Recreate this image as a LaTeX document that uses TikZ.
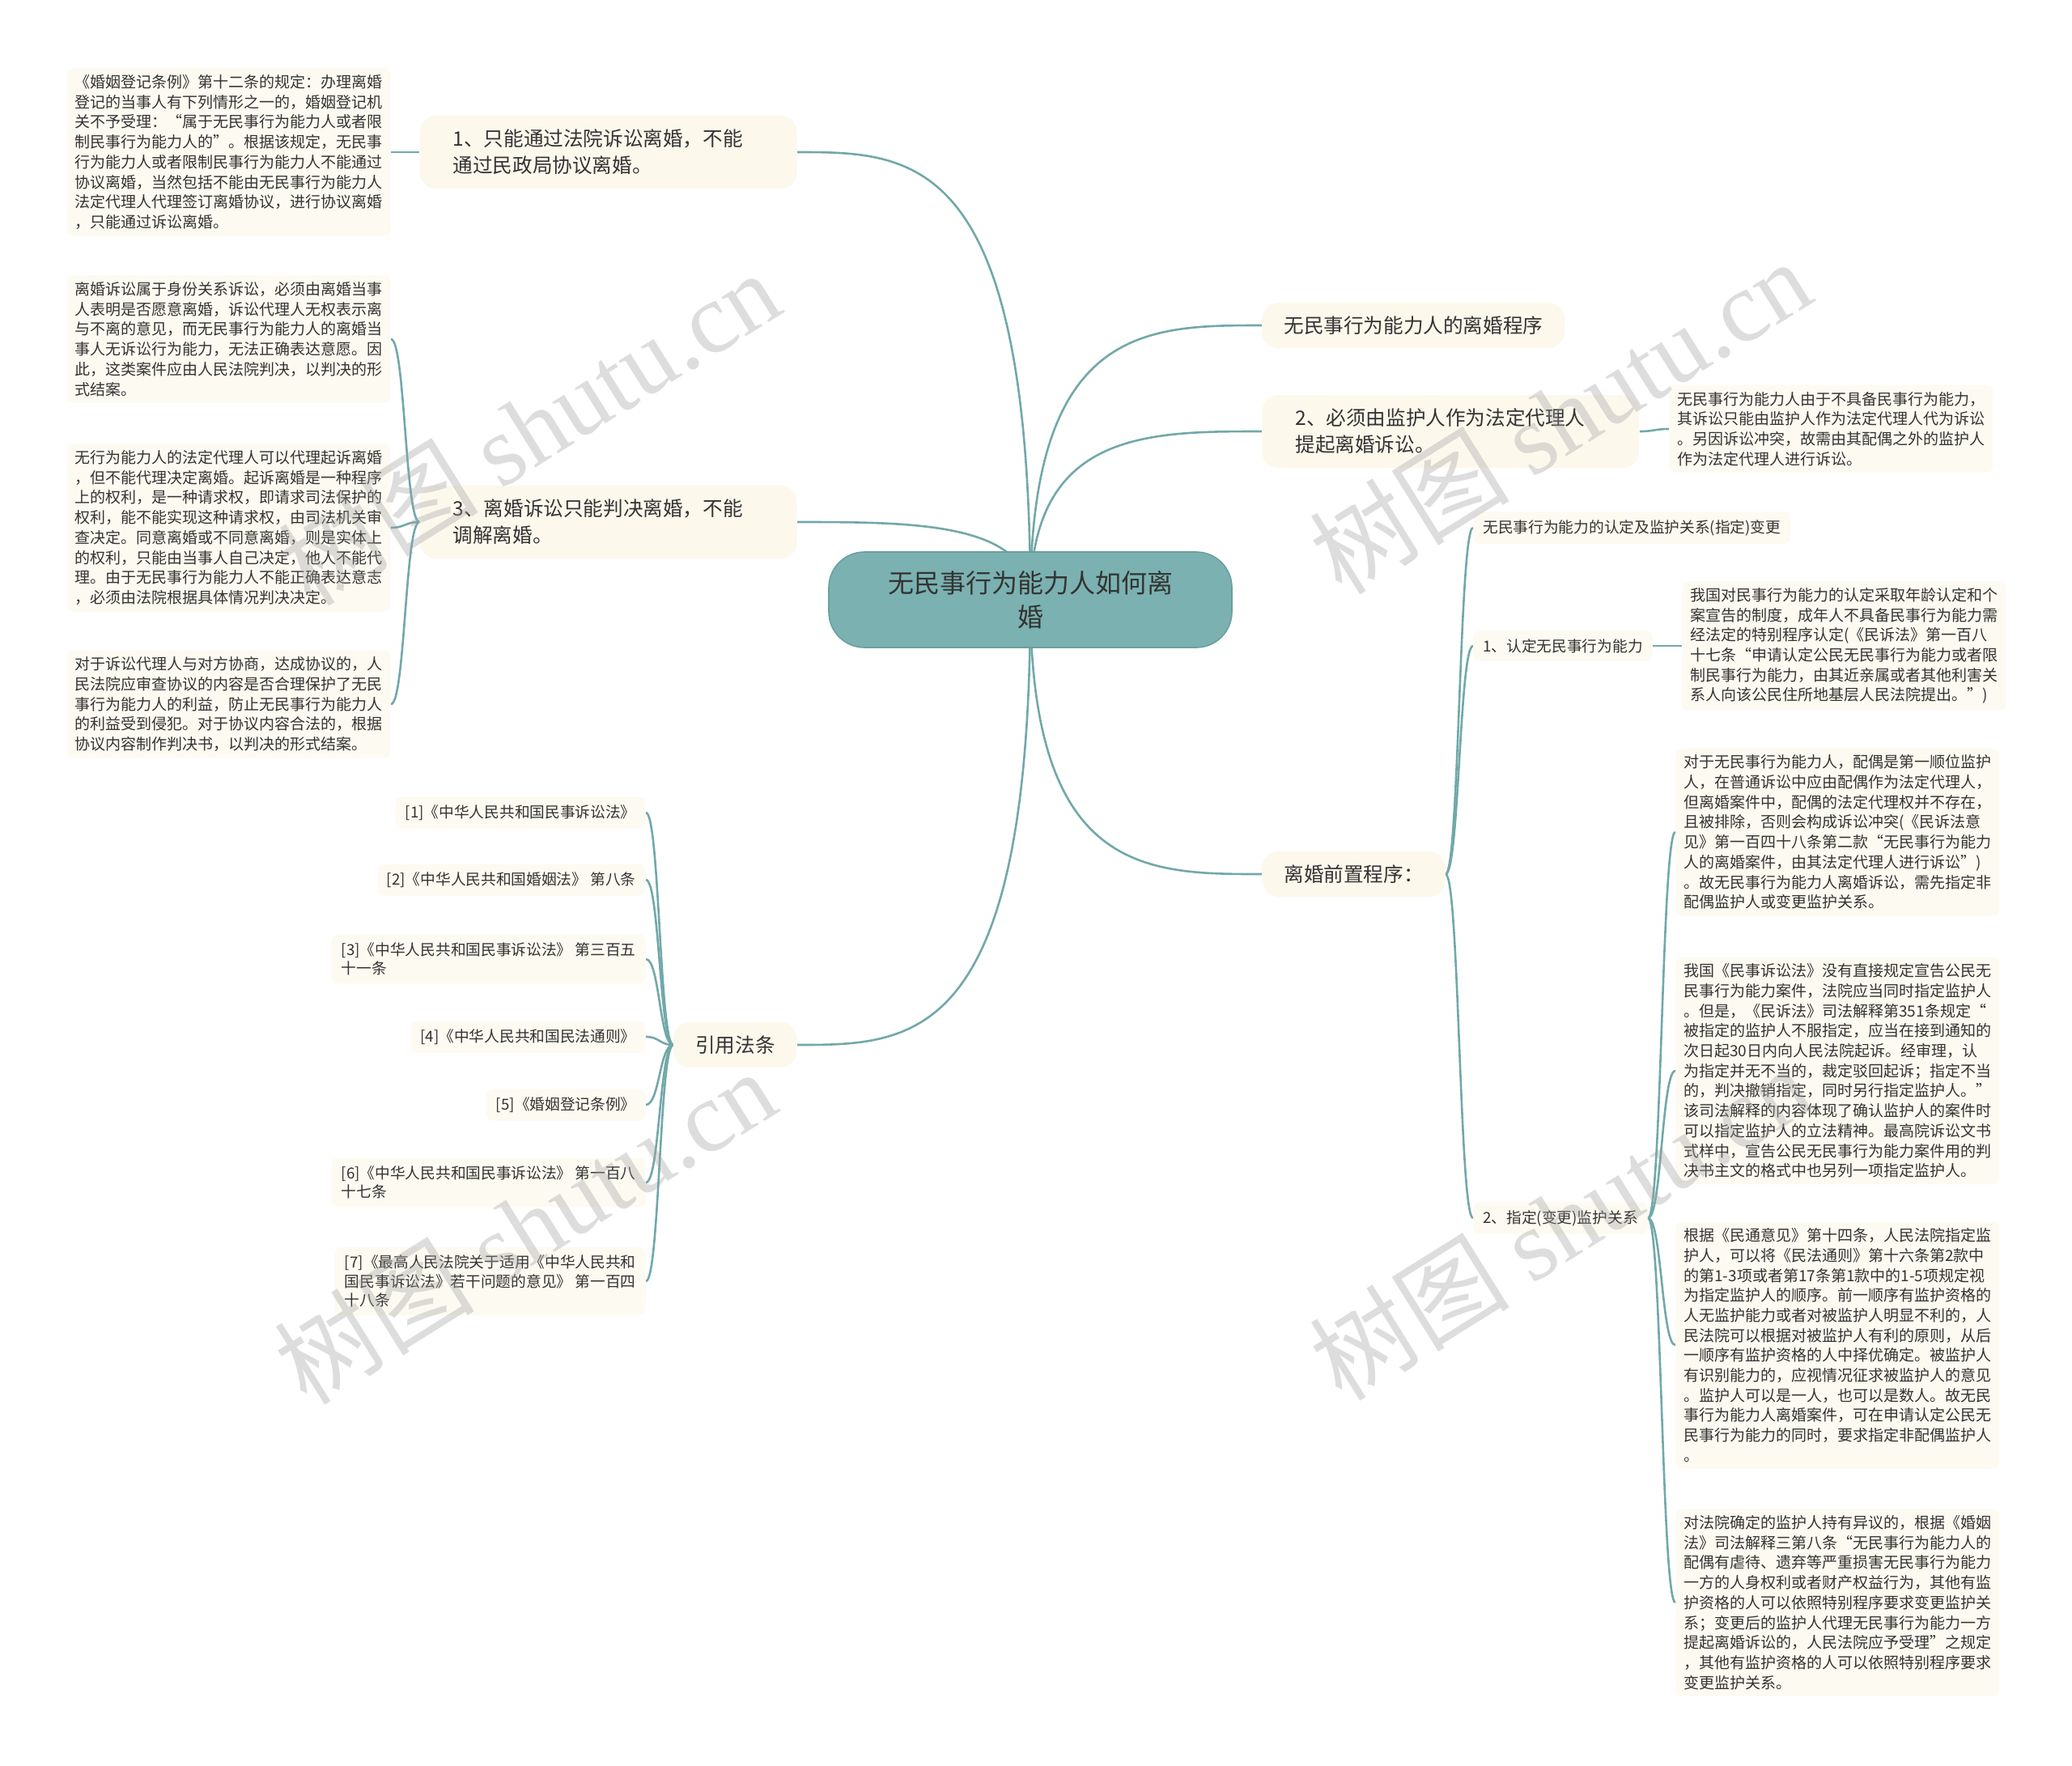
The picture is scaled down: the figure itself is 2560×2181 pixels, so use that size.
\documentclass[tikz,border=0pt]{standalone}
\usepackage{fontspec}
\setmainfont{Noto Sans CJK SC}
\newfontfamily\wmlat{Liberation Serif}
\usetikzlibrary{calc}
\pgfdeclarelayer{bg}
\pgfdeclarelayer{fg}
\pgfsetlayers{bg,main,fg}
\definecolor{rootfill}{HTML}{7BB1B1}
\definecolor{rootline}{HTML}{6A9F9F}
\definecolor{conncol}{HTML}{72A8A8}
\definecolor{creamA}{HTML}{FCF8EC}
\definecolor{creamB}{HTML}{FDFAF1}
\definecolor{txtcol}{HTML}{333333}
\definecolor{wmcol}{HTML}{A0A0A0}
\newcommand{\bracelink}[2]{\draw[conn] let \p1=(#1), \p2=(#2) in (\p1) .. controls ({(\x1+\x2)/2},\y1) and ({(\x1+\x2)/2},\y2) .. (\p2);}
\newcommand{\rootlink}[2]{\draw[conn] let \p1=(#1), \p2=(#2) in (\p1) .. controls (\x1,\y2) and ({(\x1+\x2)/2},\y2) .. (\p2);}
\begin{document}
\begin{tikzpicture}[x=0.5pt,y=-0.5pt,
  rootnode/.style={fill=rootfill, draw=rootline, line width=0.8pt, rounded corners=22pt, minimum width=249pt, minimum height=59pt, align=center, text=txtcol, font=\fontsize{16}{21}\selectfont},
  lvone/.style={fill=creamA, rounded corners=10pt, inner xsep=13.5pt, inner ysep=0pt, minimum height=28pt, text=txtcol, font=\fontsize{12.3}{16.5}\selectfont},
  lvtwo/.style={lvone, text width=192pt, align=left, inner xsep=20.5pt, minimum height=45pt},
  tbox/.style={fill=creamB, rounded corners=4pt, inner xsep=5pt, inner ysep=4pt, align=left, text=txtcol, font=\fontsize{9.5}{12.35}\selectfont},
  lbl/.style={fill=creamB, rounded corners=4pt, inner xsep=6pt, inner ysep=5pt, align=left, text=txtcol, font=\fontsize{9.35}{11.7}\selectfont},
  conn/.style={draw=conncol, line width=1.3pt},
  wm/.style={text=wmcol, opacity=0.35, font=\fontsize{62}{62}\selectfont, rotate=32}
]
\begin{pgfonlayer}{bg}
\fill[white] (0,0) rectangle (2560,2181);
\end{pgfonlayer}
\useasboundingbox (0,0) rectangle (2560,2181);

% root
\node[rootnode] (root) at (1273,741) {无民事行为能力人如何离\\婚};

% level one
\node[lvtwo, anchor=east] (n1) at (985,188) {1、只能通过法院诉讼离婚，不能\\通过民政局协议离婚。};
\node[lvtwo, anchor=east] (n3) at (985,645) {3、离婚诉讼只能判决离婚，不能\\调解离婚。};
\node[lvone, anchor=east] (nc) at (985,1291) {引用法条};
\node[lvone, anchor=west] (r1) at (1559,402) {无民事行为能力人的离婚程序};
\node[lvtwo, anchor=west] (r2) at (1559,533) {2、必须由监护人作为法定代理人\\提起离婚诉讼。};
\node[lvone, anchor=west] (r3) at (1559,1080) {离婚前置程序：};

% left text boxes
\node[tbox, anchor=east] (ta) at (483,188) {《婚姻登记条例》第十二条的规定：办理离婚\\登记的当事人有下列情形之一的，婚姻登记机\\关不予受理：“属于无民事行为能力人或者限\\制民事行为能力人的”。根据该规定，无民事\\行为能力人或者限制民事行为能力人不能通过\\协议离婚，当然包括不能由无民事行为能力人\\法定代理人代理签订离婚协议，进行协议离婚\\，只能通过诉讼离婚。};
\node[tbox, anchor=east] (tb) at (483,419) {离婚诉讼属于身份关系诉讼，必须由离婚当事\\人表明是否愿意离婚，诉讼代理人无权表示离\\与不离的意见，而无民事行为能力人的离婚当\\事人无诉讼行为能力，无法正确表达意愿。因\\此，这类案件应由人民法院判决，以判决的形\\式结案。};
\node[tbox, anchor=east] (tc) at (483,652) {无行为能力人的法定代理人可以代理起诉离婚\\，但不能代理决定离婚。起诉离婚是一种程序\\上的权利，是一种请求权，即请求司法保护的\\权利，能不能实现这种请求权，由司法机关审\\查决定。同意离婚或不同意离婚，则是实体上\\的权利，只能由当事人自己决定，他人不能代\\理。由于无民事行为能力人不能正确表达意志\\，必须由法院根据具体情况判决决定。};
\node[tbox, anchor=east] (td) at (483,870) {对于诉讼代理人与对方协商，达成协议的，人\\民法院应审查协议的内容是否合理保护了无民\\事行为能力人的利益，防止无民事行为能力人\\的利益受到侵犯。对于协议内容合法的，根据\\协议内容制作判决书，以判决的形式结案。};

% citations
\node[lbl, anchor=east] (c1) at (798,1004) {[1]《中华人民共和国民事诉讼法》};
\node[lbl, anchor=east] (c2) at (798,1087) {[2]《中华人民共和国婚姻法》 第八条};
\node[lbl, anchor=east] (c3) at (798,1185) {[3]《中华人民共和国民事诉讼法》 第三百五\\十一条};
\node[lbl, anchor=east] (c4) at (798,1281) {[4]《中华人民共和国民法通则》};
\node[lbl, anchor=east] (c5) at (798,1365) {[5]《婚姻登记条例》};
\node[lbl, anchor=east] (c6) at (798,1461) {[6]《中华人民共和国民事诉讼法》 第一百八\\十七条};
\node[lbl, anchor=east] (c7) at (798,1583) {[7]《最高人民法院关于适用《中华人民共和\\国民事诉讼法》若干问题的意见》 第一百四\\十八条};

% right side
\node[tbox, anchor=west] (tr2) at (2062,530) {无民事行为能力人由于不具备民事行为能力，\\其诉讼只能由监护人作为法定代理人代为诉讼\\。另因诉讼冲突，故需由其配偶之外的监护人\\作为法定代理人进行诉讼。};
\node[lbl, anchor=west] (k1) at (1820,652) {无民事行为能力的认定及监护关系(指定)变更};
\node[lbl, anchor=west] (k2) at (1820,798) {1、认定无民事行为能力};
\node[lbl, anchor=west] (k3) at (1820,1505) {2、指定(变更)监护关系};
\node[tbox, anchor=west] (tk2) at (2078,798) {我国对民事行为能力的认定采取年龄认定和个\\案宣告的制度，成年人不具备民事行为能力需\\经法定的特别程序认定(《民诉法》第一百八\\十七条“申请认定公民无民事行为能力或者限\\制民事行为能力，由其近亲属或者其他利害关\\系人向该公民住所地基层人民法院提出。”)};
\node[tbox, anchor=west] (d1) at (2070,1028) {对于无民事行为能力人，配偶是第一顺位监护\\人，在普通诉讼中应由配偶作为法定代理人，\\但离婚案件中，配偶的法定代理权并不存在，\\且被排除，否则会构成诉讼冲突(《民诉法意\\见》第一百四十八条第二款“无民事行为能力\\人的离婚案件，由其法定代理人进行诉讼”)\\。故无民事行为能力人离婚诉讼，需先指定非\\配偶监护人或变更监护关系。};
\node[tbox, anchor=west] (d2) at (2070,1323) {我国《民事诉讼法》没有直接规定宣告公民无\\民事行为能力案件，法院应当同时指定监护人\\。但是，《民诉法》司法解释第351条规定“\\被指定的监护人不服指定，应当在接到通知的\\次日起30日内向人民法院起诉。经审理，认\\为指定并无不当的，裁定驳回起诉；指定不当\\的，判决撤销指定，同时另行指定监护人。”\\该司法解释的内容体现了确认监护人的案件时\\可以指定监护人的立法精神。最高院诉讼文书\\式样中，宣告公民无民事行为能力案件用的判\\决书主文的格式中也另列一项指定监护人。};
\node[tbox, anchor=west] (d3) at (2070,1662) {根据《民通意见》第十四条，人民法院指定监\\护人，可以将《民法通则》第十六条第2款中\\的第1-3项或者第17条第1款中的1-5项规定视\\为指定监护人的顺序。前一顺序有监护资格的\\人无监护能力或者对被监护人明显不利的，人\\民法院可以根据对被监护人有利的原则，从后\\一顺序有监护资格的人中择优确定。被监护人\\有识别能力的，应视情况征求被监护人的意见\\。监护人可以是一人，也可以是数人。故无民\\事行为能力人离婚案件，可在申请认定公民无\\民事行为能力的同时，要求指定非配偶监护人\\。};
\node[tbox, anchor=west] (d4) at (2070,1980) {对法院确定的监护人持有异议的，根据《婚姻\\法》司法解释三第八条“无民事行为能力人的\\配偶有虐待、遗弃等严重损害无民事行为能力\\一方的人身权利或者财产权益行为，其他有监\\护资格的人可以依照特别程序要求变更监护关\\系；变更后的监护人代理无民事行为能力一方\\提起离婚诉讼的，人民法院应予受理”之规定\\，其他有监护资格的人可以依照特别程序要求\\变更监护关系。};

% connectors
\begin{pgfonlayer}{bg}
\rootlink{root.center}{n1.east}
\rootlink{root.center}{n3.east}
\rootlink{root.center}{nc.east}
\rootlink{root.center}{r1.west}
\rootlink{root.center}{r2.west}
\rootlink{root.center}{r3.west}
\bracelink{n1.west}{ta.east}
\bracelink{n3.west}{tb.east}
\bracelink{n3.west}{tc.east}
\bracelink{n3.west}{td.east}
\bracelink{nc.west}{c1.east}
\bracelink{nc.west}{c2.east}
\bracelink{nc.west}{c3.east}
\bracelink{nc.west}{c4.east}
\bracelink{nc.west}{c5.east}
\bracelink{nc.west}{c6.east}
\bracelink{nc.west}{c7.east}
\bracelink{r2.east}{tr2.west}
\bracelink{r3.east}{k1.west}
\bracelink{r3.east}{k2.west}
\bracelink{r3.east}{k3.west}
\bracelink{k2.east}{tk2.west}
\bracelink{k3.east}{d1.west}
\bracelink{k3.east}{d2.west}
\bracelink{k3.east}{d3.west}
\bracelink{k3.east}{d4.west}
\end{pgfonlayer}

% watermarks
\begin{pgfonlayer}{fg}
\node[wm] (w1) at (653,528) {树图 {\wmlat shutu.cn}};
\node[wm] (w2) at (1927,514) {树图 {\wmlat shutu.cn}};
\node[wm] (w3) at (648,1515) {树图 {\wmlat shutu.cn}};
\node[wm] (w4) at (1927,1510) {树图 {\wmlat shutu.cn}};
\end{pgfonlayer}
\end{tikzpicture}
\end{document}
